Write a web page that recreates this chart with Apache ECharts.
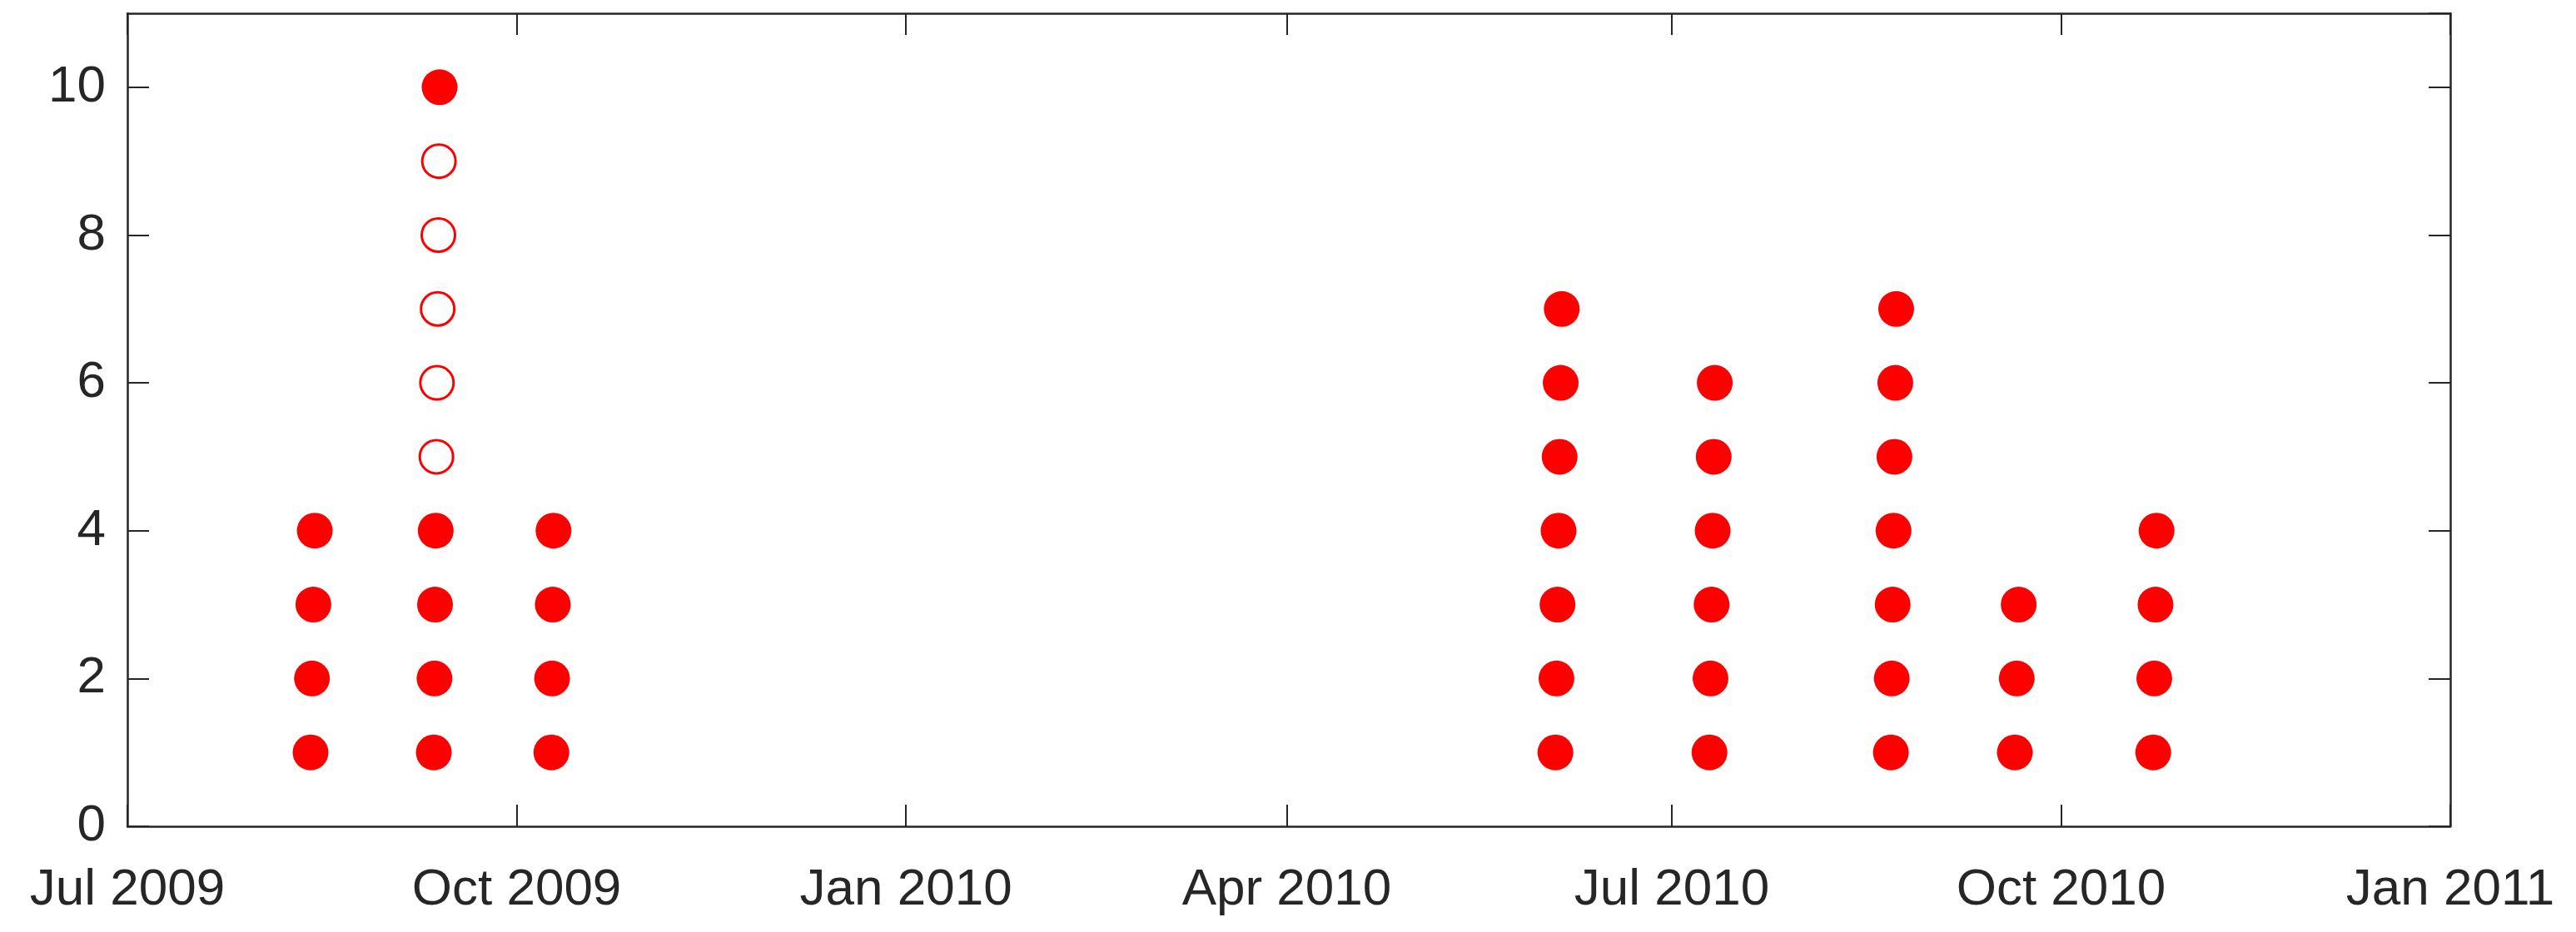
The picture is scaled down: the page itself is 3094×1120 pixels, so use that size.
<!DOCTYPE html>
<html>
<head>
<meta charset="utf-8">
<script src="https://cdn.jsdelivr.net/npm/echarts@6/dist/echarts.min.js"></script>
<style>
html,body{margin:0;padding:0;background:#fff;}
#chart{width:3094px;height:1120px;}
</style>
</head>
<body>
<div id="chart"></div>
<script>
// ---- data ----
const filledDates = [
  // Aug 2009 cluster
  '2009-08-13 07:00','2009-08-13 15:00','2009-08-13 23:00','2009-08-14 07:00',
  // Sep 2009 cluster (filled part)
  '2009-09-11 10:00','2009-09-11 14:00','2009-09-11 17:00','2009-09-11 21:00','2009-09-12 19:00',
  // Oct 2009 cluster
  '2009-10-09 05:00','2009-10-09 09:00','2009-10-09 13:00','2009-10-09 17:00',
  // Jun 2010 cluster
  '2010-06-03 12:00','2010-06-03 18:00','2010-06-04 00:00','2010-06-04 06:00','2010-06-04 12:00','2010-06-04 18:00','2010-06-05 00:00',
  // Jul 2010 cluster
  '2010-07-09 22:00','2010-07-10 04:00','2010-07-10 10:00','2010-07-10 16:00','2010-07-10 22:00','2010-07-11 04:00',
  // Aug 2010 cluster
  '2010-08-21 19:00','2010-08-22 00:00','2010-08-22 05:00','2010-08-22 10:00','2010-08-22 15:00','2010-08-22 20:00','2010-08-23 01:00',
  // Sep 2010 cluster
  '2010-09-20 02:00','2010-09-20 13:00','2010-09-21 00:00',
  // Oct 2010 cluster
  '2010-10-22 19:00','2010-10-23 01:00','2010-10-23 08:00','2010-10-23 14:00'
];
const filledCounts = [
  1,2,3,4,
  1,2,3,4,10,
  1,2,3,4,
  1,2,3,4,5,6,7,
  1,2,3,4,5,6,
  1,2,3,4,5,6,7,
  1,2,3,
  1,2,3,4
];
const hollowDates = ['2009-09-12 01:00','2009-09-12 04:00','2009-09-12 08:00','2009-09-12 12:00','2009-09-12 15:00'];
const hollowCounts = [5,6,7,8,9];

const xTickDates = ['2009-07-01 00:00','2009-10-01 00:00','2010-01-01 00:00','2010-04-01 00:00','2010-07-01 00:00','2010-10-01 00:00','2011-01-01 00:00'];
const monthNames = ['Jan','Feb','Mar','Apr','May','Jun','Jul','Aug','Sep','Oct','Nov','Dec'];
const yMin = 0, yMax = 11, yInterval = 2;

// ---- build ----
function toMs(s){
  const parts = s.split(' ');
  const d = parts[0].split('-').map(Number);
  const t = (parts[1] || '00:00').split(':').map(Number);
  return Date.UTC(d[0], d[1]-1, d[2], t[0], t[1]);
}
const xTicks = xTickDates.map(toMs);
const xMin = xTicks[0], xMax = xTicks[xTicks.length-1];
const filledData = filledDates.map((d,i)=>[toMs(d), filledCounts[i]]);
const hollowData = hollowDates.map((d,i)=>[toMs(d), hollowCounts[i]]);

const axisColor = '#262626';
const font = 'Liberation Sans, Arial, Helvetica, sans-serif';
const tickStyle = {show:true, inside:true, length:26, lineStyle:{color:axisColor, width:2}};
const lineStyle = {show:true, onZero:false, lineStyle:{color:axisColor, width:2.5}};

const chart = echarts.init(document.getElementById('chart'), null, {renderer:'canvas'});
chart.setOption({
  animation:false,
  backgroundColor:'#fff',
  grid:{left:153, right:151, top:16, bottom:127, containLabel:false},
  xAxis:[
    {type:'value', min:xMin, max:xMax, position:'bottom', scale:true,
     axisLine:lineStyle,
     axisTick:Object.assign({}, tickStyle, {customValues:xTicks}),
     axisLabel:{customValues:xTicks, margin:46, color:axisColor, fontSize:62, fontFamily:font,
       hideOverlap:false, showMinLabel:true, showMaxLabel:true,
       formatter:function(v){ const d = new Date(v); return monthNames[d.getUTCMonth()] + ' ' + d.getUTCFullYear(); }},
     splitLine:{show:false}},
    {type:'value', min:xMin, max:xMax, position:'top', scale:true,
     axisLine:lineStyle,
     axisTick:Object.assign({}, tickStyle, {customValues:xTicks}),
     axisLabel:{show:false}, splitLine:{show:false}}
  ],
  yAxis:[
    {type:'value', min:yMin, max:yMax, interval:yInterval, position:'left',
     axisLine:lineStyle, axisTick:tickStyle,
     axisLabel:{margin:26, color:axisColor, fontSize:62, fontFamily:font, showMaxLabel:false,
       formatter:function(v){ return v % yInterval === 0 ? String(v) : ''; }},
     splitLine:{show:false}},
    {type:'value', min:yMin, max:yMax, interval:yInterval, position:'right',
     axisLine:lineStyle, axisTick:tickStyle,
     axisLabel:{show:false}, splitLine:{show:false}}
  ],
  series:[
    {type:'scatter', xAxisIndex:0, yAxisIndex:0, data:filledData,
     symbol:'circle', symbolSize:43, itemStyle:{color:'#ff0000', opacity:1}},
    {type:'scatter', xAxisIndex:0, yAxisIndex:0, data:hollowData,
     symbol:'circle', symbolSize:40, itemStyle:{color:'rgba(0,0,0,0)', borderColor:'#ff0000', borderWidth:3, opacity:1}}
  ]
});
</script>
</body>
</html>
